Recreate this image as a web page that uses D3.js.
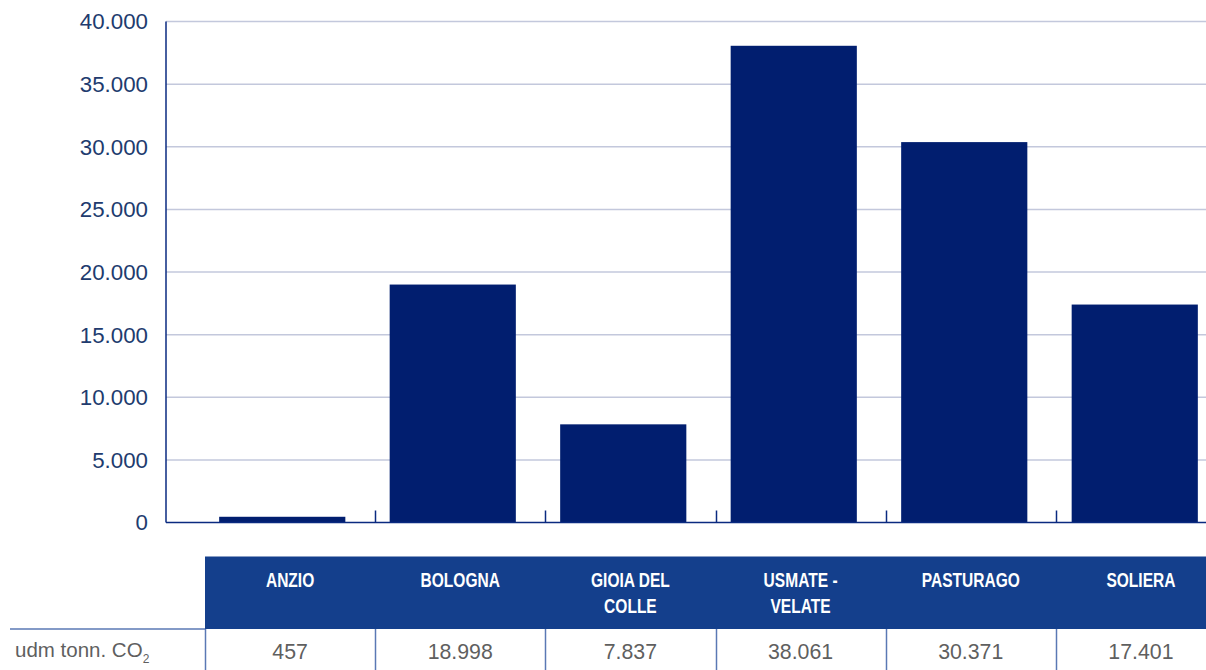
<!DOCTYPE html>
<html>
<head>
<meta charset="utf-8">
<script src="https://cdn.jsdelivr.net/npm/d3@7/dist/d3.min.js"></script>
<style>
  html, body { margin: 0; padding: 0; background: #fff; }
  svg { display: block; }
</style>
</head>
<body>
<svg id="chart" width="1206" height="670"></svg>
<script>
// Plant names, header lines as set in the table, and emissions (tonnes CO2)
const categories = ["ANZIO", "BOLOGNA", "GIOIA DEL COLLE", "USMATE - VELATE", "PASTURAGO", "SOLIERA"];
const headerLines = [["ANZIO"], ["BOLOGNA"], ["GIOIA DEL", "COLLE"], ["USMATE -", "VELATE"], ["PASTURAGO"], ["SOLIERA"]];
const values = [457, 18998, 7837, 38061, 30371, 17401];
const yTicks = [0, 5000, 10000, 15000, 20000, 25000, 30000, 35000, 40000];
const rowLabel = "udm tonn. CO";
const rowLabelSub = "2";

const itLocale = d3.formatLocale({ decimal: ",", thousands: ".", grouping: [3], currency: ["€", ""] });
const fmt = itLocale.format(",");

const svg = d3.select("#chart");
const W = 1206;

const navy = "#011e6f";
const axisNavy = "#0a2a80";
const headerBlue = "#143f8c";
const gridColor = "#c3c8dc";
const tableLine = "#5a78b4";
const labelColor = "#213b6e";
const valueColor = "#5f5f5f";

const y = d3.scaleLinear().domain([0, 40000]).range([522.5, 21.5]);
const xBars = d3.scaleBand().domain(categories).range([197, 1220]).paddingInner(0.26).paddingOuter(0.13);
const xCols = d3.scaleBand().domain(categories).range([205, 1226]);

const axisLeft = 166;

// Gridlines
svg.append("g")
  .selectAll("line")
  .data(yTicks.filter(d => d > 0))
  .join("line")
  .attr("x1", axisLeft).attr("x2", W)
  .attr("y1", d => y(d)).attr("y2", d => y(d))
  .attr("stroke", gridColor).attr("stroke-width", 1.5);

// Y tick labels
svg.append("g")
  .selectAll("text")
  .data(yTicks)
  .join("text")
  .attr("x", 148)
  .attr("y", d => y(d) + 2)
  .attr("text-anchor", "end")
  .attr("dominant-baseline", "middle")
  .attr("font-family", "'Liberation Sans', Arial, sans-serif")
  .attr("font-size", 22.3)
  .attr("fill", labelColor)
  .text(d => fmt(d));

// Bars
svg.append("g")
  .selectAll("rect")
  .data(values)
  .join("rect")
  .attr("x", (d, i) => xBars(categories[i]))
  .attr("width", xBars.bandwidth())
  .attr("y", d => y(d))
  .attr("height", d => y(0) - y(d))
  .attr("fill", navy);

// Axes lines
svg.append("line")
  .attr("x1", axisLeft).attr("x2", axisLeft)
  .attr("y1", y(40000)).attr("y2", y(0))
  .attr("stroke", axisNavy).attr("stroke-width", 1.5);
svg.append("line")
  .attr("x1", axisLeft).attr("x2", W)
  .attr("y1", y(0)).attr("y2", y(0))
  .attr("stroke", axisNavy).attr("stroke-width", 1.5);

// Category tick marks at column boundaries
svg.append("g")
  .selectAll("line")
  .data(categories.slice(1))
  .join("line")
  .attr("x1", d => Math.round(xCols(d)) + 0.5).attr("x2", d => Math.round(xCols(d)) + 0.5)
  .attr("y1", y(0) - 12).attr("y2", y(0))
  .attr("stroke", axisNavy).attr("stroke-width", 1.5);

// Table header
const headTop = 556.5, headBottom = 629, rowBottom = 672;
svg.append("rect")
  .attr("x", xCols(categories[0])).attr("y", headTop)
  .attr("width", W - xCols(categories[0])).attr("height", headBottom - headTop)
  .attr("fill", headerBlue);

// Condensed bold header labels
const head = svg.append("g")
  .selectAll("text")
  .data(headerLines)
  .join("text")
  .attr("transform", (d, i) => `translate(${xCols(categories[i]) + xCols.bandwidth() / 2},587) scale(0.74,1)`)
  .attr("text-anchor", "middle")
  .attr("font-family", "'Liberation Sans', Arial, sans-serif")
  .attr("font-weight", "bold")
  .attr("font-size", 21)
  .attr("fill", "#ffffff");
head.selectAll("tspan")
  .data(d => d)
  .join("tspan")
  .attr("x", 0)
  .attr("dy", (d, i) => i === 0 ? 0 : 26)
  .text(d => d);

// Data row borders
svg.append("line")
  .attr("x1", 10).attr("x2", xCols(categories[0]))
  .attr("y1", headBottom).attr("y2", headBottom)
  .attr("stroke", tableLine).attr("stroke-width", 1.5);
svg.append("g")
  .selectAll("line")
  .data(categories)
  .join("line")
  .attr("x1", d => Math.round(xCols(d)) + 0.5).attr("x2", d => Math.round(xCols(d)) + 0.5)
  .attr("y1", headBottom).attr("y2", rowBottom)
  .attr("stroke", tableLine).attr("stroke-width", 1.5);

// Row label
const rl = svg.append("text")
  .attr("x", 15).attr("y", 657)
  .attr("font-family", "'Liberation Sans', Arial, sans-serif")
  .attr("font-size", 20.5)
  .attr("fill", valueColor);
rl.append("tspan").text(rowLabel);
rl.append("tspan").attr("font-size", 12).attr("dy", 6).text(rowLabelSub);

// Values row
svg.append("g")
  .selectAll("text")
  .data(values)
  .join("text")
  .attr("x", (d, i) => xCols(categories[i]) + xCols.bandwidth() / 2)
  .attr("y", 659)
  .attr("text-anchor", "middle")
  .attr("font-family", "'Liberation Sans', Arial, sans-serif")
  .attr("font-size", 21.3)
  .attr("fill", valueColor)
  .text(d => fmt(d));
</script>
</body>
</html>
